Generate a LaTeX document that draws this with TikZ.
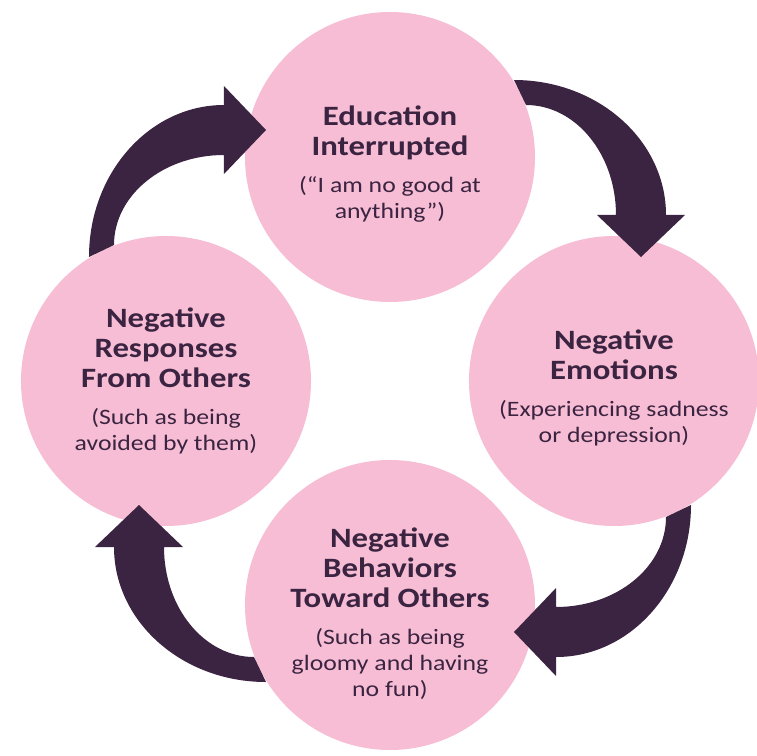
\documentclass[tikz,border=0pt]{standalone}
\usepackage{fontspec}
\setmainfont{Carlito}[FakeStretch=1.17]
\definecolor{ringpink}{HTML}{F7BDD4}
\definecolor{plum}{HTML}{3B2441}
\newcommand{\hdfont}{\bfseries\fontsize{28}{30}\selectfont}
\newcommand{\subfont}{\mdseries\fontsize{22}{26}\selectfont}
\newcommand{\lift}[1]{\rule{0pt}{#1}}
\tikzset{
  stage/.style={circle, fill=ringpink, minimum size=290pt, inner sep=0pt,
    align=center, text=plum, font=\subfont},
}
\begin{document}
\lineskiplimit=-50pt
\begin{tikzpicture}[x=1pt, y=1pt]
      \useasboundingbox (-390,-374) rectangle (367,381);
      \node[stage] (edu) at (0,224) {\hdfont\lift{34pt}Education\\[4pt]\hdfont Interrupted\\[11pt]\subfont (“I am no good at\\anything”)};
      \node[stage] (emo) at (224,0) {\hdfont\lift{34pt}Negative\\[4pt]\hdfont Emotions\\[11pt]\subfont (Experiencing sadness\\or depression)};
      \node[stage] (beh) at (0,-224) {\hdfont\lift{38pt}Negative\\[4pt]\hdfont Behaviors\\[4pt]\hdfont Toward Others\\[11pt]\subfont (Such as being\\gloomy and having\\no fun)};
      \node[stage] (resp) at (-224,0) {\hdfont Negative\\[4pt]\hdfont Responses\\[4pt]\hdfont From Others\\[11pt]\subfont (Such as being\\avoided by them)};
      % curved arrows round the ring
      \foreach \a in {0,-90,-180,-270}
        \fill[plum, rotate=\a] (-301,124) arc[start angle=180, end angle=90, x radius=135, y radius=152]
          -- (-166,295) -- (-124,251) -- (-166,207) -- (-166,226)
          arc[start angle=90, end angle=180, x radius=110, y radius=90] -- cycle;
    \end{tikzpicture}
\end{document}
